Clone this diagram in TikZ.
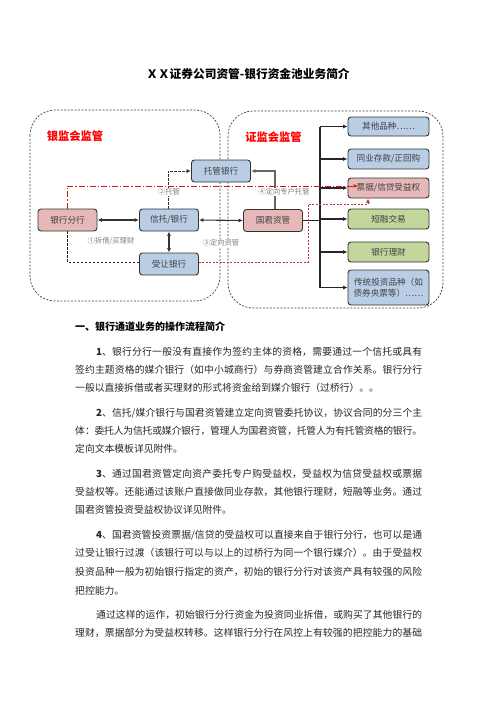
\documentclass[tikz,border=0pt]{standalone}
\usepackage{fontspec}
\setmainfont{Noto Sans CJK SC}
\usetikzlibrary{arrows.meta}
\XeTeXlinebreaklocale "zh"
\XeTeXlinebreakskip=0pt plus 3pt minus 1pt
\definecolor{bluef}{HTML}{B9CDE5}
\definecolor{pinkf}{HTML}{E6B9B8}
\definecolor{greenf}{HTML}{C3D69B}
\definecolor{boxtxt}{HTML}{404040}
\definecolor{lblc}{HTML}{7F7F7F}
\definecolor{redl}{HTML}{D01515}
\definecolor{pinkl}{HTML}{C0304A}
\newcommand\bodyfont{\fontsize{9.8}{12}\selectfont\color{black!85}}
\newcommand\myjline[5]{\node[anchor=base west,inner sep=0pt] (#1) at (#2,#3) {\parbox[b]{#4pt}{\bodyfont\tolerance=9999\parfillskip=0pt\relax #5}};}
\newcommand\myfline[4]{\node[anchor=base west,inner sep=0pt] (#1) at (#2,#3) {\bodyfont #4};}
\tikzset{
  box/.style={draw=black!80, line width=0.9pt, rounded corners=3pt, minimum width=59pt, minimum height=22pt, inner sep=0pt, font=\fontsize{8.6}{11.5}\selectfont, text=boxtxt},
  rbox/.style={box, minimum width=81pt, minimum height=20pt},
  lbl/.style={font=\fontsize{7.3}{8}\selectfont, text=lblc, fill=white, inner sep=0.6pt},
  tip/.style={-{Latex[length=4.5pt,width=4pt]}},
  arr/.style={draw=black!80, line width=1.1pt, tip},
  darr/.style={draw=black!80, line width=1.1pt, {Latex[length=4.5pt,width=4pt]}-{Latex[length=4.5pt,width=4pt]}},
  region/.style={draw=black!75, dash pattern=on 2pt off 1.5pt, line width=0.7pt, rounded corners=25pt},
  regtitle/.style={font=\fontsize{11.3}{12}\selectfont\bfseries, text=red},
}
\begin{document}
\begin{tikzpicture}[x=1pt,y=-1pt]
\useasboundingbox (0,0) rectangle (496,702);
% title
\node[anchor=base, inner sep=0pt, font=\fontsize{11.7}{13}\selectfont\bfseries] (title) at (248,78.4) {ＸＸ证券公司资管-银行资金池业务简介};
% regions
\draw[region] (30,110) rectangle (220,301);
\draw[region] (228,111) rectangle (443,308);
\node[regtitle] (t1) at (75,136) {银监会监管};
\node[regtitle] (t2) at (273.5,137) {证监会监管};
% nodes
\node[box, fill=pinkf] (fh) at (67.5,220) {银行分行};
\node[box, fill=bluef] (xt) at (169,220) {信托/银行};
\node[box, fill=bluef] (sr) at (169,264) {受让银行};
\node[box, fill=bluef] (tg) at (221,171) {托管银行};
\node[box, fill=pinkf] (gj) at (273,220.5) {国君资管};
\node[rbox, fill=bluef, minimum height=19pt] (r1) at (388.5,126.5) {其他品种……};
\node[rbox, fill=bluef] (r2) at (388.5,159) {同业存款/正回购};
\node[rbox, fill=pinkf] (r3) at (388.5,188) {票据/信贷受益权};
\node[rbox, fill=greenf] (r4) at (388.5,219) {短融交易};
\node[rbox, fill=greenf] (r5) at (388.5,252) {银行理财};
\node[rbox, fill=bluef, minimum height=35pt, align=center] (r6) at (388.5,287.5) {传统投资品种（如\\债券央票等）……};
% trunk
\coordinate (tr) at (320,220.5);
\draw[draw=black!85, line width=1.1pt] (gj.east) -- (tr);
\draw[draw=black!85, line width=1.1pt] (tr |- r1.west) -- (tr |- r6.west);
\foreach \n in {r1,r2,r3,r4,r5,r6} \draw[arr, draw=black!85] (tr |- \n.west) -- (\n.west);
% main arrows
\draw[darr] (fh.east) -- (xt.west);
\draw[darr] (xt.east) -- (gj.west);
\draw[darr] (xt.south) -- (sr.north);
% custody
\draw[arr, line width=0.9pt, dash pattern=on 2.5pt off 1.5pt] ([xshift=-1pt]xt.north) |- (tg.west);
\draw[arr, draw=black!60] ([xshift=2pt]gj.north) |- (tg.east);
% branch to transferee bank
\draw[draw=black!85, line width=0.8pt, dash pattern=on 2.5pt off 1.5pt] (fh.south) |- ([yshift=2pt]sr.west);
% red dash-dot
\coordinate (redend) at (358,186);
\draw[redl, line width=1pt, dash pattern=on 6pt off 2pt on 1.2pt off 2pt, tip] (fh.north) |- (redend);
% pink dashed
\coordinate (pk) at (308,204);
\draw[pinkl, line width=1pt, dash pattern=on 2pt off 1.5pt, tip] ([yshift=2pt]sr.east) -| (pk) -| ([xshift=-20.5pt]r3.south);
% labels
\node[lbl] (l1) at (111,241) {①拆借/买理财};
\node[lbl] (l2) at (169,192) {②托管};
\node[lbl] (l3) at (221,243) {③定向资管};
\node[lbl] (l4) at (284,192) {④定向专户托管};
% text
\node[anchor=base west, inner sep=0pt, font=\fontsize{10}{12}\selectfont\bfseries] (h1) at (75,330.4) {一、银行通道业务的操作流程简介};
\myjline{p1a}{96}{355.5}{326}{{\bfseries 1}、银行分行一般没有直接作为签约主体的资格，需要通过一个信托或具有}
\myjline{p1b}{75}{373.5}{347}{签约主题资格的媒介银行（如中小城商行）与券商资管建立合作关系。银行分行}
\myfline{p1c}{75}{391.5}{一般以直接拆借或者买理财的形式将资金给到媒介银行（过桥行）。。}
\myjline{p2a}{96}{416}{326}{{\bfseries 2}、信托/媒介银行与国君资管建立定向资管委托协议，协议合同的分三个主}
\myjline{p2b}{75}{434}{347}{体：委托人为信托或媒介银行，管理人为国君资管，托管人为有托管资格的银行。}
\myfline{p2c}{75}{452}{定向文本模板详见附件。}
\myjline{p3a}{96}{477}{326}{{\bfseries 3}、通过国君资管定向资产委托专户购受益权，受益权为信贷受益权或票据}
\myjline{p3b}{75}{495}{347}{受益权等。还能通过该账户直接做同业存款，其他银行理财，短融等业务。通过}
\myfline{p3c}{75}{513.5}{国君资管投资受益权协议详见附件。}
\myjline{p4a}{96}{538}{326}{{\bfseries 4}、国君资管投资票据/信贷的受益权可以直接来自于银行分行，也可以是通}
\myjline{p4b}{75}{556.5}{347}{过受让银行过渡（该银行可以与以上的过桥行为同一个银行媒介）。由于受益权}
\myjline{p4c}{75}{575}{347}{投资品种一般为初始银行指定的资产，初始的银行分行对该资产具有较强的风险}
\myfline{p4d}{75}{594}{把控能力。}
\myjline{p5a}{96}{618.5}{326}{通过这样的运作，初始银行分行资金为投资同业拆借，或购买了其他银行的}
\myjline{p5b}{75}{636.5}{347}{理财，票据部分为受益权转移。这样银行分行在风控上有较强的把控能力的基础}
\end{tikzpicture}
\end{document}
